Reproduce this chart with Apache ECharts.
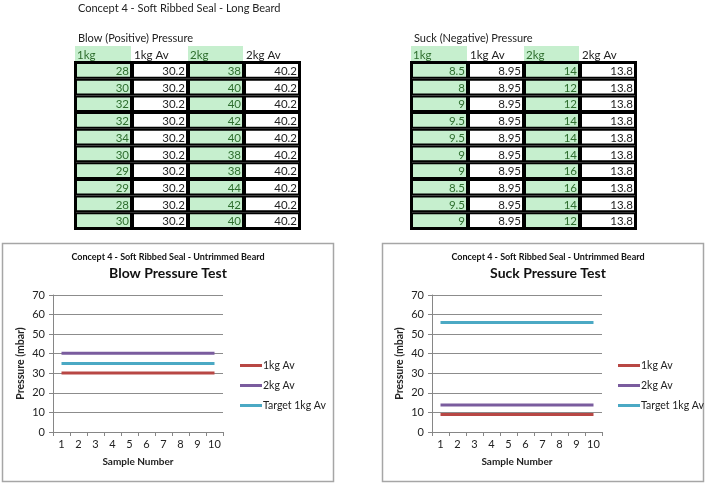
<!DOCTYPE html>
<html>
<head>
<meta charset="utf-8">
<script src="https://cdn.jsdelivr.net/npm/echarts@6/dist/echarts.min.js"></script>
<style>
html,body{margin:0;padding:0;background:#fff;}
#c{width:714px;height:485px;}
</style>
</head>
<body>
<div id="c"></div>
<script>
// ---- data ----
var samples = ['1','2','3','4','5','6','7','8','9','10'];
var tableHeaders = ['1kg','1kg Av','2kg','2kg Av'];
var blow1kg   = [28,30,32,32,34,30,29,29,28,30];
var blow1kgAv = [30.2,30.2,30.2,30.2,30.2,30.2,30.2,30.2,30.2,30.2];
var blow2kg   = [38,40,40,42,40,38,38,44,42,40];
var blow2kgAv = [40.2,40.2,40.2,40.2,40.2,40.2,40.2,40.2,40.2,40.2];
var blowTarget = [35,35,35,35,35,35,35,35,35,35];
var suck1kg   = [8.5,8,9,9.5,9.5,9,9,8.5,9.5,9];
var suck1kgAv = [8.95,8.95,8.95,8.95,8.95,8.95,8.95,8.95,8.95,8.95];
var suck2kg   = [14,12,12,14,14,14,16,16,14,12];
var suck2kgAv = [13.8,13.8,13.8,13.8,13.8,13.8,13.8,13.8,13.8,13.8];
var suckTarget = [56,56,56,56,56,56,56,56,56,56];
var seriesNames = ['1kg Av','2kg Av','Target 1kg Av'];
var yTicks = {min:0, max:70, interval:10};

// ---- styles ----
var FONT = 'Lato, "Open Sans", sans-serif';
var COLORS = ['#B84744','#7A5C9E','#4BA9C4'];
var GREEN_BG = '#C6EFCE';
var GREEN_TX = '#2E6E2E';

var elements = [];
function txt(x,y,t,opt){
  opt = opt||{};
  elements.push({type:'text', x:x, y:y, z:10, style:{
    text:t, fill:opt.fill||'#222', font:(opt.weight||'normal')+' '+(opt.size||12)+'px '+FONT,
    align:opt.align||'left', verticalAlign:'middle'}});
}
function rect(x,y,w,h,fill,stroke,lw){
  elements.push({type:'rect', z:1, shape:{x:x,y:y,width:w,height:h},
    style:{fill:fill, stroke:stroke||null, lineWidth:lw||0}});
}

// page title
txt(78,8,'Concept 4 - Soft Ribbed Seal - Long Beard',{size:11});

function buildTable(x0, title, cols){
  var lefts = [x0, x0+57, x0+113, x0+169];
  var widths = [57,56,56,56];
  var headTop = 46, headH = 16, rowTop = 62, rowH = 16.7;
  txt(x0+3, 38, title, {size:11});
  for (var c=0;c<4;c++){
    var green = (c%2===0);
    if (green) rect(lefts[c], headTop, widths[c]-1, headH, GREEN_BG);
    txt(lefts[c]+2, headTop+headH/2+1, tableHeaders[c], {size:11.5, fill: green?GREEN_TX:'#222'});
  }
  for (var r=0;r<10;r++){
    for (var c2=0;c2<4;c2++){
      var g = (c2%2===0);
      var y = rowTop + r*rowH;
      rect(lefts[c2]+1, y+1, widths[c2]-2, rowH-2, g?GREEN_BG:'#fff', '#000', 2);
      txt(lefts[c2]+widths[c2]-3, y+rowH/2+1, String(cols[c2][r]), {size:11.5, align:'right', fill: g?GREEN_TX:'#222'});
    }
  }
  elements.push({type:'rect', z:2, shape:{x:x0, y:rowTop, width:225, height:rowH*10},
    style:{fill:null, stroke:'#000', lineWidth:2}});
}
buildTable(75, 'Blow (Positive) Pressure', [blow1kg, blow1kgAv, blow2kg, blow2kgAv]);
buildTable(411, 'Suck (Negative) Pressure', [suck1kg, suck1kgAv, suck2kg, suck2kgAv]);

// chart frames
elements.push({type:'rect', z:0, shape:{x:2.5,y:243.5,width:331,height:238}, style:{fill:null, stroke:'#A6A6A6', lineWidth:1.5}});
elements.push({type:'rect', z:0, shape:{x:382.5,y:243.5,width:321,height:238}, style:{fill:null, stroke:'#A6A6A6', lineWidth:1.5}});

// chart titles
txt(168,257,'Concept 4 - Soft Ribbed Seal - Untrimmed Beard',{size:9, weight:'bold', align:'center', fill:'#111'});
txt(168,273,'Blow Pressure Test',{size:14, weight:'bold', align:'center', fill:'#111'});
txt(548,257,'Concept 4 - Soft Ribbed Seal - Untrimmed Beard',{size:9, weight:'bold', align:'center', fill:'#111'});
txt(548,273,'Suck Pressure Test',{size:14, weight:'bold', align:'center', fill:'#111'});

var grids = [
  {left:53, top:295, width:170, height:137},
  {left:432, top:295, width:170, height:137}
];
function xAx(i){
  return {type:'category', gridIndex:i, data:samples, boundaryGap:true,
    axisLine:{lineStyle:{color:'#868686', width:1}},
    axisTick:{show:true, length:4, lineStyle:{color:'#868686'}},
    axisLabel:{color:'#222', fontSize:11, fontFamily:FONT, margin:7, interval:0},
    name:'Sample Number', nameLocation:'middle', nameGap:25,
    nameTextStyle:{color:'#222', fontSize:10, fontWeight:'bold', fontFamily:FONT}};
}
function yAx(i){
  return {type:'value', gridIndex:i, min:yTicks.min, max:yTicks.max, interval:yTicks.interval,
    axisLine:{show:true, lineStyle:{color:'#868686', width:1}},
    axisTick:{show:true, length:4, lineStyle:{color:'#868686'}},
    splitLine:{show:true, lineStyle:{color:'#8C8C8C', width:1}},
    axisLabel:{color:'#222', fontSize:11, fontFamily:FONT, margin:8},
    name:'Pressure (mbar)', nameLocation:'middle', nameGap:27, nameRotate:90,
    nameTextStyle:{color:'#222', fontSize:10.5, fontWeight:'bold', fontFamily:FONT}};
}
function ser(name, data, i, ci){
  return {type:'line', name:name, xAxisIndex:i, yAxisIndex:i, data:data,
    symbol:'none', showSymbol:false, silent:true, animation:false,
    lineStyle:{width:3, color:COLORS[ci]}, itemStyle:{color:COLORS[ci]}};
}
function leg(left){
  return {data:seriesNames, orient:'vertical', left:left, top:355, icon:'rect',
    itemWidth:22, itemHeight:3, itemGap:9, selectedMode:false,
    textStyle:{color:'#222', fontSize:10.5, fontFamily:FONT, padding:[0,0,0,-4]}};
}

var option = {
  backgroundColor:'#fff',
  animation:false,
  grid: grids,
  xAxis:[xAx(0), xAx(1)],
  yAxis:[yAx(0), yAx(1)],
  legend:[leg(235), leg(613)],
  series:[
    ser(seriesNames[0], blow1kgAv, 0, 0),
    ser(seriesNames[1], blow2kgAv, 0, 1),
    ser(seriesNames[2], blowTarget, 0, 2),
    ser(seriesNames[0], suck1kgAv, 1, 0),
    ser(seriesNames[1], suck2kgAv, 1, 1),
    ser(seriesNames[2], suckTarget, 1, 2)
  ],
  graphic:{elements:elements}
};
var chart = echarts.init(document.getElementById('c'), null, {renderer:'canvas'});
chart.setOption(option);
</script>
</body>
</html>
